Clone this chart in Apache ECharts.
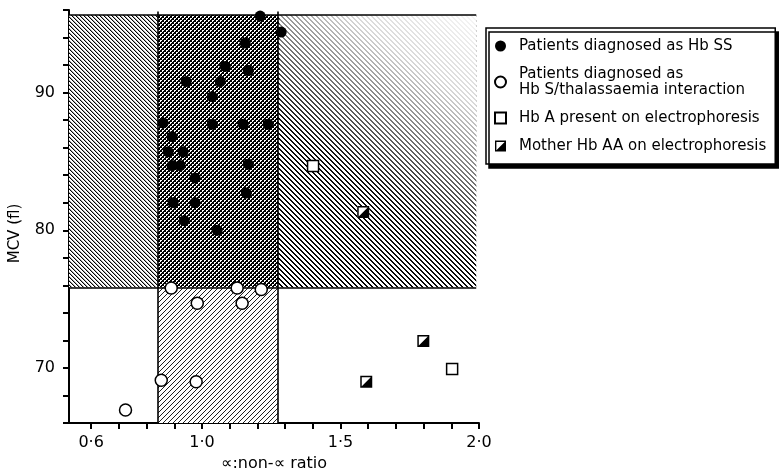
<!DOCTYPE html>
<html><head><meta charset="utf-8">
<script src="https://cdn.jsdelivr.net/npm/echarts@6/dist/echarts.min.js"></script>
<style>html,body{margin:0;padding:0;background:#fff}#c{width:779px;height:469px}</style>
</head><body><div id="c"></div>
<script>
// ---- data ----
const seriesNames = [
  'Patients diagnosed as Hb SS',
  'Patients diagnosed as\nHb S/thalassaemia interaction',
  'Hb A present on electrophoresis',
  'Mother Hb AA on electrophoresis'
];
const hbSS = [[1.21,95.56],[1.286,94.4],[1.156,93.6],[1.084,91.9],[1.167,91.6],[0.943,90.8],[1.066,90.8],
  [1.037,89.7],[0.86,87.8],[1.037,87.7],[1.149,87.7],[1.239,87.7],[0.892,86.8],[0.878,85.7],[0.932,85.7],
  [0.892,84.7],[0.921,84.7],[1.167,84.8],[0.975,83.8],[1.16,82.7],[0.896,82.0],[0.975,82.0],[0.936,80.7],[1.055,80.0]];
const hbSThal = [[0.889,75.8],[1.127,75.8],[1.214,75.7],[0.983,74.7],[1.145,74.7],[0.853,69.1],[0.979,69.0],[0.724,66.95]];
const hbAPresent = [[1.401,84.67],[1.903,69.93]];
const motherAA = [[1.582,81.33],[1.799,71.96],[1.593,68.99]];
const xTickValues = [0.6,0.7,0.8,0.9,1.0,1.1,1.2,1.3,1.4,1.5,1.6,1.7,1.8,1.9,2.0];
const xLabelValues = [0.6,1.0,1.5,2.0];
const xLabelText = ['0·6','1·0','1·5','2·0'];
const yLabelValues = [70,80,90];
const regionX = [0.52, 0.841, 1.2745, 1.99];
const regionY = [66, 75.85, 95.64];

// ---- pixel patterns ----
function pixPattern(n, fn) {
  const c = document.createElement('canvas');
  c.width = n; c.height = n;
  const g = c.getContext('2d');
  const img = g.createImageData(n, n);
  for (let y = 0; y < n; y++) for (let x = 0; x < n; x++) {
    const v = fn(x, y);
    const i = (y * n + x) * 4;
    img.data[i] = img.data[i+1] = img.data[i+2] = v; img.data[i+3] = 255;
  }
  g.putImageData(img, 0, 0);
  return {image: c, repeat: 'repeat'};
}
const mod = (a, n) => ((a % n) + n) % n;
// "\" lines
const patLeft = pixPattern(4, (x, y) => { const k = mod(x - y, 4); return k === 0 ? 0 : (k === 1 ? 170 : 255); });
const patRight = pixPattern(5, (x, y) => { const k = mod(x - y, 5); return k < 2 ? 0 : 255; });
// "/" lines
const patLower = pixPattern(5, (x, y) => { const k = mod(x + y, 5); return k === 0 ? 30 : 255; });
// cross-hatch: black with small white holes on diagonal lattice
const patCross = pixPattern(4, (x, y) => {
  const holes = [[0,0],[1,0],[0,1],[2,2],[3,2],[2,3]];
  return holes.some(h => h[0] === x && h[1] === y) ? 255 : 0;
});
const fade = {type:'linear', x:0, y:1, x2:1, y2:0, colorStops:[
  {offset:0, color:'rgba(255,255,255,0)'},
  {offset:0.4, color:'rgba(255,255,255,0.05)'},
  {offset:0.78, color:'rgba(255,255,255,0.85)'},
  {offset:1, color:'rgba(255,255,255,0.97)'}]};

const halfSq = 'path://M0,0H12V12H0Z M1.5,10.5H10.5V1.5H1.5Z M10.5,1.5L10.5,10.5L1.5,10.5Z';
const font = 'DejaVu Sans';

const chart = echarts.init(document.getElementById('c'), null, {renderer:'canvas'});
chart.setOption({
  animation: false,
  textStyle: {fontFamily: font, color:'#000'},
  grid: {left: 69, right: 300, top: 10, bottom: 46, containLabel:false, outerBoundsMode:'none'},
  legend: {
    orient:'vertical', left: 486, top: 28, selectedMode:false,
    data: seriesNames,
    backgroundColor:'#fff', borderColor:'#000', borderWidth:1.5,
    shadowColor:'#000', shadowOffsetX:3, shadowOffsetY:4, shadowBlur:0,
    padding:[10,9,10,8], itemGap:12, itemWidth:11, itemHeight:11,
    textStyle:{fontFamily:font, fontSize:15, lineHeight:16, color:'#000', padding:[0,0,0,8]}
  },
  xAxis: {
    type:'value', min:0.52, max:2.0,
    axisLine:{show:true, onZero:false, lineStyle:{color:'#000', width:2}},
    axisTick:{show:true, customValues:xTickValues, length:6, lineStyle:{color:'#000', width:2}},
    axisLabel:{customValues:xLabelValues, fontFamily:font, fontSize:16, color:'#000', margin:12,
      formatter:(v)=>{const i = xLabelValues.findIndex(t=>Math.abs(t-v)<1e-6); return i>=0?xLabelText[i]:'';}},
    splitLine:{show:false},
    name:'∝:non-∝ ratio', nameLocation:'middle', nameGap:32,
    nameTextStyle:{fontFamily:font, fontSize:16, color:'#000'}
  },
  yAxis: {
    type:'value', min:66, max:96, interval:2,
    axisLine:{show:true, onZero:false, lineStyle:{color:'#000', width:2}},
    axisTick:{show:true, length:6, lineStyle:{color:'#000', width:2}},
    axisLabel:{fontFamily:font, fontSize:16, color:'#000', margin:14,
      formatter:(v)=> yLabelValues.includes(v) ? String(v) : ''},
    splitLine:{show:false},
    name:'MCV (fl)', nameLocation:'middle', nameGap:46, nameRotate:90,
    nameTextStyle:{fontFamily:font, fontSize:15, color:'#000', padding:[0,34,0,0]}
  },
  series: [
    {type:'scatter', data:[], silent:true,
      markArea:{silent:true, z:1, data:[
        [{coord:[regionX[0],regionY[1]], itemStyle:{color:patLeft}}, {coord:[regionX[1],regionY[2]]}],
        [{coord:[regionX[1],regionY[1]], itemStyle:{color:patCross}}, {coord:[regionX[2],regionY[2]]}],
        [{coord:[regionX[2],regionY[1]], itemStyle:{color:patRight}}, {coord:[regionX[3],regionY[2]]}],
        [{coord:[regionX[1],regionY[0]], itemStyle:{color:patLower}}, {coord:[regionX[2],regionY[1]]}]
      ]}},
    {type:'scatter', data:[], silent:true,
      markArea:{silent:true, z:2, data:[
        [{coord:[regionX[2]+0.005,regionY[1]], itemStyle:{color:fade}}, {coord:[regionX[3],regionY[2]]}]
      ]},
      markLine:{silent:true, z:3, symbol:['none','none'], label:{show:false},
        lineStyle:{color:'#000', width:1.6, type:'solid'}, data:[
        [{coord:[regionX[0],regionY[2]]},{coord:[regionX[3],regionY[2]]}],
        [{coord:[regionX[0],regionY[1]]},{coord:[regionX[3],regionY[1]]}],
        [{coord:[regionX[1],regionY[0]]},{coord:[regionX[1],95.9]}],
        [{coord:[regionX[2],regionY[0]]},{coord:[regionX[2],95.9]}]
      ]}},
    {name:seriesNames[0], type:'scatter', z:5, data:hbSS, symbol:'circle', symbolSize:11,
      itemStyle:{color:'#000', opacity:1}},
    {name:seriesNames[1], type:'scatter', z:5, data:hbSThal, symbol:'circle', symbolSize:12,
      itemStyle:{color:'#fff', borderColor:'#000', borderWidth:1.5, opacity:1}},
    {name:seriesNames[2], type:'scatter', z:5, data:hbAPresent, symbol:'rect', symbolSize:11,
      itemStyle:{color:'#fff', borderColor:'#000', borderWidth:1.5, opacity:1}},
    {type:'scatter', z:5, data:motherAA, symbol:'rect', symbolSize:12, silent:true,
      itemStyle:{color:'#fff', opacity:1}},
    {name:seriesNames[3], type:'scatter', z:6, data:motherAA, symbol:halfSq, symbolSize:12,
      itemStyle:{color:'#000', opacity:1}}
  ]
});
</script></body></html>
